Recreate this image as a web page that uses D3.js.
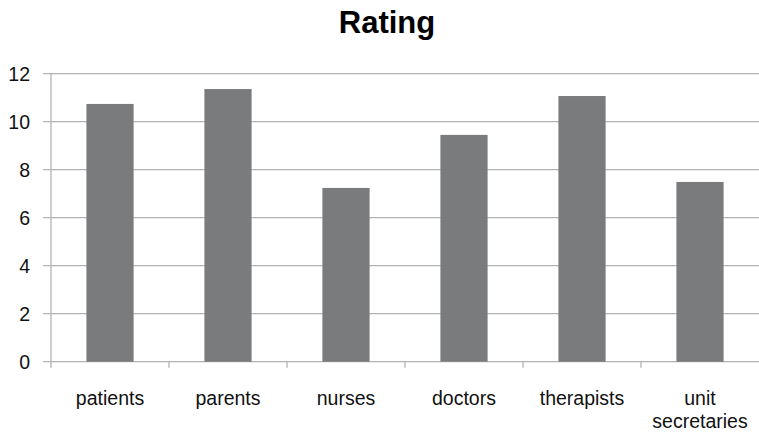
<!DOCTYPE html>
<html>
<head>
<meta charset="utf-8">
<script src="https://cdn.jsdelivr.net/npm/d3@7"></script>
<style>
  html, body { margin: 0; padding: 0; background: #fff; }
  svg { display: block; }
  text { font-family: "Liberation Sans", Arial, Helvetica, sans-serif; }
</style>
</head>
<body>
<svg id="chart" width="759" height="433"></svg>
<script>
const title = "Rating";
const categories = ["patients", "parents", "nurses", "doctors", "therapists", "unit secretaries"];
const categoryLines = [["patients"], ["parents"], ["nurses"], ["doctors"], ["therapists"], ["unit", "secretaries"]];
const values = [10.74, 11.36, 7.24, 9.45, 11.07, 7.49];
const yTicks = [0, 2, 4, 6, 8, 10, 12];

const svg = d3.select("#chart");
const plotLeft = 51, plotRight = 759, plotTop = 73.7, plotBottom = 361.7;

const x = d3.scaleBand().domain(categories).range([plotLeft, plotRight]).paddingInner(0).paddingOuter(0);
const y = d3.scaleLinear().domain([0, 12]).range([plotBottom, plotTop]);

// gridlines
svg.append("g").selectAll("line").data(yTicks).join("line")
  .attr("x1", plotLeft - 8).attr("x2", plotRight)
  .attr("y1", d => y(d)).attr("y2", d => y(d))
  .attr("stroke", "#b3b3b3").attr("stroke-width", 1.3);

// y-axis line
svg.append("line").attr("x1", plotLeft).attr("x2", plotLeft)
  .attr("y1", plotTop).attr("y2", plotBottom + 6)
  .attr("stroke", "#b3b3b3").attr("stroke-width", 1.3);

// category ticks
const bounds = categories.map(c => x(c)).concat([plotRight]);
svg.append("g").selectAll("line").data(bounds.slice(1, -1)).join("line")
  .attr("x1", d => d).attr("x2", d => d)
  .attr("y1", plotBottom).attr("y2", plotBottom + 6)
  .attr("stroke", "#b3b3b3").attr("stroke-width", 1.3);

// bars
const bw = x.bandwidth() * 0.4;
svg.append("g").selectAll("rect").data(values).join("rect")
  .attr("x", (d, i) => x(categories[i]) + x.bandwidth() / 2 - bw / 2)
  .attr("width", bw)
  .attr("y", d => y(d))
  .attr("height", d => plotBottom - y(d))
  .attr("fill", "#7a7b7d");

// y tick labels
svg.append("g").selectAll("text").data(yTicks).join("text")
  .attr("x", 30).attr("y", d => y(d) + 6.8)
  .attr("text-anchor", "end")
  .attr("font-size", 19.5)
  .attr("fill", "#111")
  .text(d => d);

// x labels
const xl = svg.append("g");
categoryLines.forEach((lines, i) => {
  lines.forEach((ln, j) => {
    xl.append("text")
      .attr("x", x(categories[i]) + x.bandwidth() / 2)
      .attr("y", 405 + j * 23)
      .attr("text-anchor", "middle")
      .attr("font-size", 19.5)
      .attr("fill", "#111")
      .text(ln);
  });
});

// title
svg.append("text")
  .attr("x", 387).attr("y", 33)
  .attr("text-anchor", "middle")
  .attr("font-size", 31).attr("font-weight", "bold")
  .attr("fill", "#000")
  .text(title);
</script>
</body>
</html>
